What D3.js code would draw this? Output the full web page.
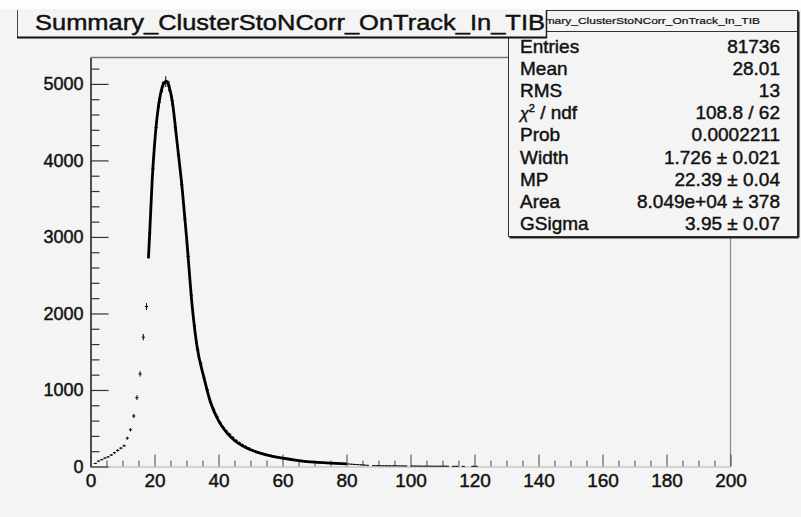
<!DOCTYPE html>
<html>
<head>
<meta charset="utf-8">
<script src="https://cdn.jsdelivr.net/npm/d3@7"></script>
<style>
  html, body { margin: 0; padding: 0; background: #f4f4f4; }
  svg { display: block; }
  text { font-family: "Liberation Sans", Arial, Helvetica, sans-serif; fill: #111; stroke: #111; stroke-width: 0.45px; }
</style>
</head>
<body>
<svg id="c" width="801" height="517"></svg>
<script>
// Histogram: bins of width 1 starting at 0, counts per bin
const binStart = 0;
const binWidth = 1;
const binCounts = [
  0, 40, 70, 90, 110, 125, 150, 180, 210, 240,
  270, 370, 480, 660, 900, 1210, 1690, 2090, 3050, 3890,
  4430, 4760, 4960, 5030, 4970, 4785, 4430, 4065, 3685, 3235,
  2745, 2240, 1840, 1525, 1340, 1155, 1005, 840, 745, 650,
  570, 510, 460, 420, 378, 340, 310, 283, 262, 240,
  218, 202, 188, 174, 162, 152, 142, 132, 123, 115,
  107, 101, 95, 88, 82, 78, 73, 68, 64, 60,
  56, 54, 51, 48, 46, 44, 42, 40, 38, 36,
  33, 30, 27, 25, 22, 20, 15, 0, 12, 12,
  11, 10, 10, 9, 9, 10, 8, 8, 7, 0,
  6, 6, 6, 5, 5, 5, 5, 4, 4, 4,
  5, 4, 0, 3, 3, 0, 2, 0, 0, 3, 2
];

// Fitted Landau (x) Gaussian curve, sampled
const fitX = [18.1, 18.5, 19.3, 20.0, 20.8, 21.9, 22.8, 23.75, 24.6, 25.5, 27.1, 28.7, 30.0, 31.8, 33.3, 35.4, 37.5, 40, 42.5, 45, 47.5, 50, 55, 60, 65, 70, 75, 80];
const fitY = [2720, 3050, 3760, 4200, 4567, 4872, 5000, 5037, 4960, 4785, 4219, 3610, 3000, 2086, 1564, 1172, 840, 600, 445, 340, 270, 218, 152, 108, 78, 57, 45, 35];

// Axis ticks
const xMajorTicks = [0, 20, 40, 60, 80, 100, 120, 140, 160, 180, 200];
const yMajorTicks = [0, 1000, 2000, 3000, 4000, 5000];

// Title and statistics box
const titleText = "Summary_ClusterStoNCorr_OnTrack_In_TIB";
const statLabels = ["Entries", "Mean", "RMS", "chi2ndf", "Prob", "Width", "MP", "Area", "GSigma"];
const statValues = ["81736", "28.01", "13", "108.8 / 62", "0.0002211", "1.726 \u00b1 0.021", "22.39 \u00b1 0.04", "8.049e+04 \u00b1 378", "3.95 \u00b1 0.07"];

const svg = d3.select("#c");
const bg = "#f4f4f4";

svg.append("rect").attr("width", 801).attr("height", 517).attr("fill", bg);
svg.append("rect").attr("width", 801).attr("height", 9).attr("fill", "#fdfdfd");

const frame = { left: 90.5, right: 730.5, top: 57.5, bottom: 466.5 };
const x = d3.scaleLinear().domain([0, 200]).range([frame.left, frame.right]);
const y = d3.scaleLinear().domain([0, 5345]).range([frame.bottom, frame.top]);

// frame
svg.append("line").attr("x1", frame.left).attr("x2", frame.right).attr("y1", frame.top).attr("y2", frame.top)
  .attr("stroke", "#777").attr("stroke-width", 1.5);
svg.append("line").attr("x1", frame.right).attr("x2", frame.right).attr("y1", frame.top).attr("y2", frame.bottom)
  .attr("stroke", "#888").attr("stroke-width", 1.2);

// x axis: minor ticks every 5, major every 20
const xMinor = d3.range(0, 201, 5).filter(v => v % 20 !== 0);
const gxMinor = svg.append("g").attr("transform", `translate(0,${frame.bottom})`)
  .call(d3.axisBottom(x).tickValues(xMinor).tickSizeInner(-6).tickSizeOuter(0).tickFormat(""));
const gx = svg.append("g").attr("transform", `translate(0,${frame.bottom})`)
  .call(d3.axisBottom(x).tickValues(xMajorTicks).tickSizeInner(-12).tickSizeOuter(0).tickPadding(7).tickFormat(d3.format("d")));
[gxMinor, gx].forEach(g => {
  g.select(".domain").attr("stroke", "#c8c8c8").attr("stroke-width", 1);
  g.selectAll(".tick line").attr("stroke", "#444").attr("stroke-width", 1);
});
gx.selectAll(".tick text").attr("font-size", 19).attr("fill", "#111")
  .attr("font-family", "Liberation Sans, Arial, sans-serif");

// y axis: minor every 200, major every 1000
const yMinor = d3.range(0, 5345, 200).filter(v => v % 1000 !== 0);
const gyMinor = svg.append("g").attr("transform", `translate(${frame.left},0)`)
  .call(d3.axisLeft(y).tickValues(yMinor).tickSizeInner(-9).tickSizeOuter(0).tickFormat(""));
const gy = svg.append("g").attr("transform", `translate(${frame.left},0)`)
  .call(d3.axisLeft(y).tickValues(yMajorTicks).tickSizeInner(-18).tickSizeOuter(0).tickPadding(7).tickFormat(d3.format("d")));
[gyMinor, gy].forEach(g => {
  g.select(".domain").attr("stroke", "#444").attr("stroke-width", 1.5);
  g.selectAll(".tick line").attr("stroke", "#333").attr("stroke-width", 1.2);
});
gy.selectAll(".tick text").attr("font-size", 18).attr("fill", "#111")
  .attr("font-family", "Liberation Sans, Arial, sans-serif");

// histogram points with error bars
const bins = binCounts.map((v, i) => ({ lo: binStart + i * binWidth, hi: binStart + (i + 1) * binWidth, v }))
  .filter(d => d.v > 0);
const gh = svg.append("g").attr("stroke", "#111").attr("stroke-width", 1.1);
gh.selectAll("line.h").data(bins).join("line").attr("class", "h")
  .attr("x1", d => x(d.lo)).attr("x2", d => x(d.hi))
  .attr("y1", d => y(d.v)).attr("y2", d => y(d.v));
gh.selectAll("line.e").data(bins).join("line").attr("class", "e")
  .attr("x1", d => x((d.lo + d.hi) / 2)).attr("x2", d => x((d.lo + d.hi) / 2))
  .attr("y1", d => y(d.v - Math.sqrt(d.v))).attr("y2", d => y(d.v + Math.sqrt(d.v)));

// fitted curve
const fitPts = fitX.map((v, i) => [v, fitY[i]]);
svg.append("path").datum(fitPts)
  .attr("fill", "none").attr("stroke", "#000").attr("stroke-width", 2.8)
  .attr("d", d3.line().x(d => x(d[0])).y(d => y(d[1])).curve(d3.curveMonotoneX));

// statistics box
const sb = { x: 508.5, y: 10.5, w: 289, h: 226 };
svg.append("rect").attr("x", sb.x).attr("y", sb.y).attr("width", sb.w).attr("height", sb.h)
  .attr("fill", bg).attr("stroke", "#333").attr("stroke-width", 1);
svg.append("line").attr("x1", sb.x + 1).attr("x2", sb.x + sb.w + 1).attr("y1", sb.y + sb.h + 1).attr("y2", sb.y + sb.h + 1)
  .attr("stroke", "#222").attr("stroke-width", 2);
svg.append("line").attr("x1", sb.x + sb.w + 1).attr("x2", sb.x + sb.w + 1).attr("y1", sb.y + 1).attr("y2", sb.y + sb.h + 1)
  .attr("stroke", "#222").attr("stroke-width", 2);
svg.append("line").attr("x1", sb.x).attr("x2", sb.x + sb.w).attr("y1", 31.5).attr("y2", 31.5)
  .attr("stroke", "#333").attr("stroke-width", 1);
svg.append("text").attr("x", 760).attr("y", 24).attr("text-anchor", "end")
  .attr("font-size", 9).attr("textLength", 240).attr("lengthAdjust", "spacingAndGlyphs")
  .style("stroke-width", "0.2px")
  .text(titleText);

const rowBase = [53, 75, 97, 119, 141, 164, 186, 208, 230];
statLabels.forEach((lab, i) => {
  const t = svg.append("text").attr("x", 520).attr("y", rowBase[i]).attr("font-size", 19);
  if (lab === "chi2ndf") {
    t.append("tspan").attr("font-style", "italic").attr("font-size", 16).text("\u03c7");
    t.append("tspan").attr("font-size", 11).attr("dy", -7).text("2");
    t.append("tspan").attr("dy", 7).text(" / ndf");
  } else {
    t.text(lab);
  }
  svg.append("text").attr("x", 780).attr("y", rowBase[i]).attr("text-anchor", "end")
    .attr("font-size", 19).text(statValues[i]);
});

// title box
svg.append("rect").attr("x", 17).attr("y", 9).attr("width", 530).attr("height", 28).attr("fill", bg);
svg.append("line").attr("x1", 17.5).attr("x2", 17.5).attr("y1", 10).attr("y2", 38).attr("stroke", "#444");
svg.append("line").attr("x1", 546.5).attr("x2", 546.5).attr("y1", 10).attr("y2", 38).attr("stroke", "#222").attr("stroke-width", 1.5);
svg.append("line").attr("x1", 17).attr("x2", 547).attr("y1", 37.5).attr("y2", 37.5).attr("stroke", "#111").attr("stroke-width", 2);
svg.append("text").attr("x", 35).attr("y", 30).attr("font-size", 22)
  .attr("textLength", 510).attr("lengthAdjust", "spacingAndGlyphs").text(titleText);
</script>
</body>
</html>
